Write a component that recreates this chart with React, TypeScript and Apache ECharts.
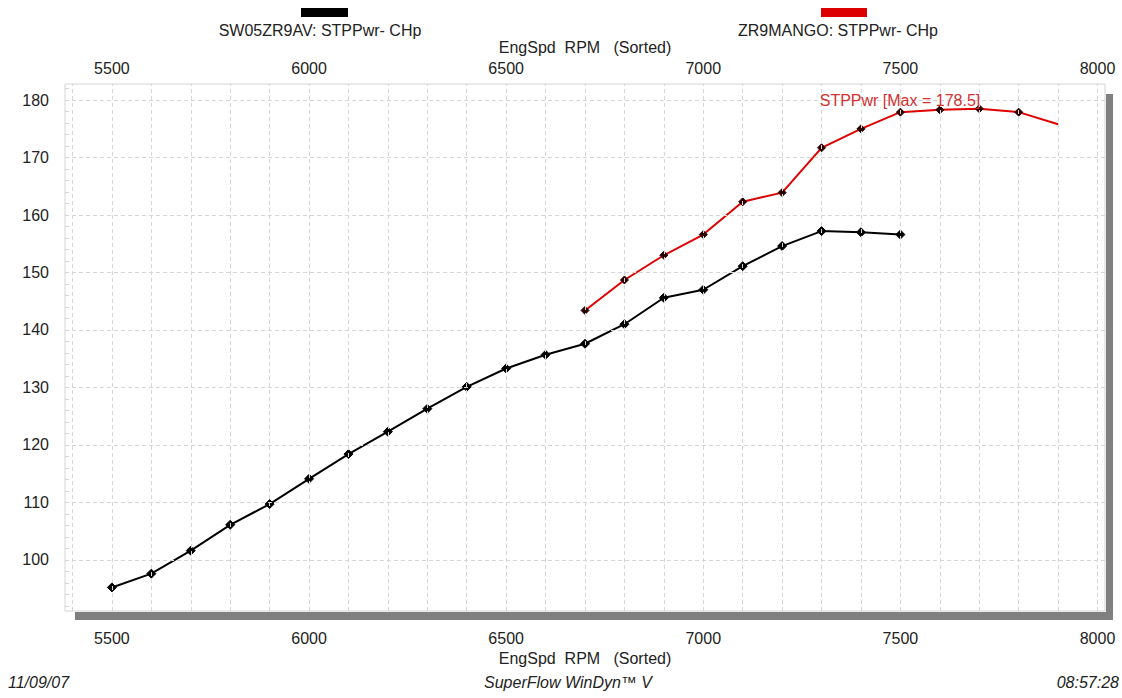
import React, { useEffect, useRef } from "react";
import * as echarts from "echarts";

// ---- data ----
const seriesNames = ["SW05ZR9AV: STPPwr- CHp", "ZR9MANGO: STPPwr- CHp"];
const axisName = "EngSpd  RPM   (Sorted)";

const rpmA = [5500, 5600, 5700, 5800, 5900, 6000, 6100, 6200, 6300, 6400, 6500, 6600, 6700, 6800, 6900, 7000, 7100, 7200, 7300, 7400, 7500];
const powerA = [95.2, 97.6, 101.6, 106.1, 109.7, 114.1, 118.4, 122.3, 126.3, 130.1, 133.3, 135.7, 137.6, 141.0, 145.6, 147.0, 151.1, 154.6, 157.2, 157.0, 156.6];

const rpmB = [6700, 6800, 6900, 7000, 7100, 7200, 7300, 7400, 7500, 7600, 7700, 7800, 7900];
const powerB = [143.4, 148.7, 153.0, 156.6, 162.3, 163.9, 171.7, 175.0, 177.9, 178.3, 178.5, 177.9, 175.8];

const rpmTicks = [5500, 6000, 6500, 7000, 7500, 8000];
const powerTicks = [100, 110, 120, 130, 140, 150, 160, 170, 180];
const rpmGrid = [5400, 5500, 5600, 5700, 5800, 5900, 6000, 6100, 6200, 6300, 6400, 6500, 6600, 6700, 6800, 6900, 7000, 7100, 7200, 7300, 7400, 7500, 7600, 7700, 7800, 7900, 8000];
const powerMinor = [92, 94, 96, 98, 102, 104, 106, 108, 112, 114, 116, 118, 122, 124, 126, 128, 132, 134, 136, 138, 142, 144, 146, 148, 152, 154, 156, 158, 162, 164, 166, 168, 172, 174, 176, 178, 182];

const footerLeft = "11/09/07";
const footerMid = "SuperFlow WinDyn™ V";
const footerRight = "08:57:28";

const X_MIN = 5381;
const X_MAX = 8019;
const Y_MIN = 91.1;
const Y_MAX = 182.8;

const FONT = '"Liberation Sans", Arial, sans-serif';
const TEXT = "#222";

export default function App() {
  const ref = useRef<HTMLDivElement>(null);

  useEffect(() => {
    if (!ref.current) return;
    const chart = echarts.init(ref.current, null, { renderer: "svg" });

    const axisBase = {
      type: "value" as const,
      min: X_MIN,
      max: X_MAX,
      name: axisName,
      nameLocation: "middle" as const,
      nameTextStyle: { fontSize: 16, color: TEXT, fontFamily: FONT },
      axisLine: { show: false },
      axisTick: { show: false },
      splitLine: { show: false },
    };
    const plain = (v: number) => String(v);

    const gridLineData: any[] = [
      ...rpmGrid.map((v) => ({ xAxis: v })),
      ...powerTicks.map((v) => ({ yAxis: v })),
      ...powerMinor.map((v) => [{ coord: [X_MIN, v] }, { coord: [5399, v] }]),
    ];

    const option: any = {
      animation: false,
      backgroundColor: "#fff",
      textStyle: { fontFamily: FONT },
      grid: {
        left: 65,
        top: 84,
        width: 1040,
        height: 527,
        show: true,
        borderColor: "#d4d4d4",
        borderWidth: 1,
        backgroundColor: "#fff",
      },
      xAxis: [
        {
          ...axisBase,
          position: "bottom",
          nameGap: 38,
          axisLabel: { customValues: rpmTicks, formatter: plain, fontSize: 16, color: TEXT, margin: 19, fontFamily: FONT },
        },
        {
          ...axisBase,
          position: "top",
          nameGap: 29,
          axisLabel: { customValues: rpmTicks, formatter: plain, fontSize: 16, color: TEXT, margin: 8, fontFamily: FONT },
        },
      ],
      yAxis: {
        type: "value",
        min: Y_MIN,
        max: Y_MAX,
        axisLine: { show: false },
        axisTick: { show: false },
        splitLine: { show: false },
        axisLabel: { customValues: powerTicks, formatter: plain, fontSize: 16, color: TEXT, margin: 16, fontFamily: FONT },
      },
      graphic: [
        { type: "rect", shape: { x: 1106, y: 94, width: 7, height: 526 }, style: { fill: "#808080" } },
        { type: "rect", shape: { x: 75, y: 612, width: 1038, height: 8 }, style: { fill: "#808080" } },
        { type: "rect", shape: { x: 301, y: 8, width: 47, height: 9 }, style: { fill: "#000" } },
        {
          type: "text",
          x: 320,
          y: 30,
          style: { text: seriesNames[0], font: `16px ${FONT}`, fill: TEXT, align: "center", verticalAlign: "middle" },
        },
        { type: "rect", shape: { x: 821, y: 8, width: 46, height: 9 }, style: { fill: "#dd0000" } },
        {
          type: "text",
          x: 838,
          y: 30,
          style: { text: seriesNames[1], font: `16px ${FONT}`, fill: TEXT, align: "center", verticalAlign: "middle" },
        },
        {
          type: "text",
          x: 8,
          y: 682,
          style: { text: footerLeft, font: `italic 16px ${FONT}`, fill: TEXT, align: "left", verticalAlign: "middle" },
        },
        {
          type: "text",
          x: 568,
          y: 682,
          style: { text: footerMid, font: `italic 16px ${FONT}`, fill: TEXT, align: "center", verticalAlign: "middle" },
        },
        {
          type: "text",
          x: 1119,
          y: 682,
          style: { text: footerRight, font: `italic 16px ${FONT}`, fill: TEXT, align: "right", verticalAlign: "middle" },
        },
      ],
      series: [
        {
          type: "line",
          name: "grid",
          data: [],
          silent: true,
          z: 1,
          markLine: {
            silent: true,
            symbol: ["none", "none"],
            label: { show: false },
            lineStyle: { color: "#d6d6d6", type: [4, 3], width: 1 },
            emphasis: { disabled: true },
            data: gridLineData,
          },
        },
        {
          type: "line",
          name: seriesNames[0],
          data: rpmA.map((r, i) => [r, powerA[i]]),
          symbol: "diamond",
          symbolSize: 9,
          showAllSymbol: true,
          lineStyle: { color: "#000", width: 2 },
          itemStyle: { color: "#000", borderColor: "#000", borderWidth: 1 },
          z: 3,
        },
        {
          type: "line",
          name: seriesNames[1],
          data: rpmB.map((r, i) =>
            i === rpmB.length - 1 ? { value: [r, powerB[i]], symbol: "none" } : [r, powerB[i]]
          ),
          symbol: "diamond",
          symbolSize: 8,
          showAllSymbol: true,
          lineStyle: { color: "#e00000", width: 2 },
          itemStyle: { color: "#2a0000", borderColor: "#2a0000", borderWidth: 1 },
          z: 4,
          markPoint: {
            symbol: "circle",
            symbolSize: 0,
            data: [{ type: "max", name: "Max" }],
            label: {
              show: true,
              position: "left",
              offset: [6, -8],
              formatter: (p: any) => `STPPwr [Max = ${p.value}]`,
              color: "#d43030",
              fontSize: 16,
              fontFamily: FONT,
            },
          },
        },
      ],
    };

    chart.setOption(option);
    return () => chart.dispose();
  }, []);

  return (
    <div
      ref={ref}
      style={{ position: "fixed", left: 0, top: 0, width: 1122, height: 698, background: "#fff" }}
    />
  );
}
